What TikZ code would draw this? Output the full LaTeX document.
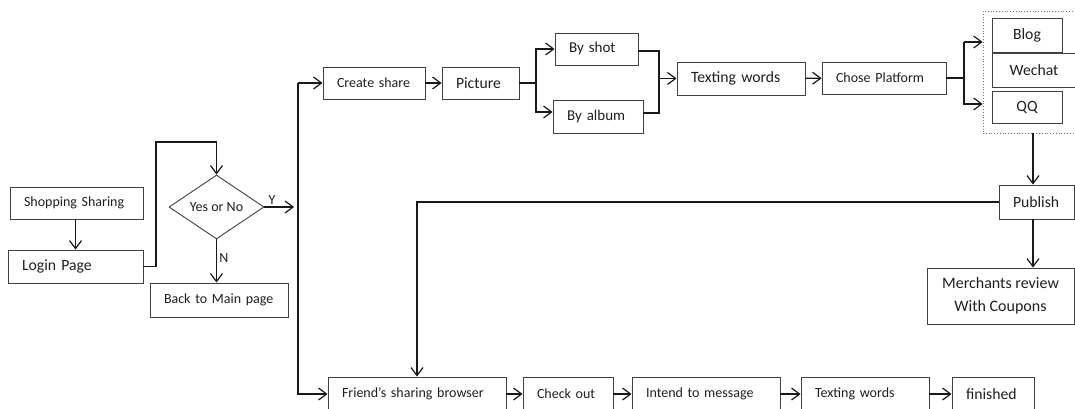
\documentclass[tikz,border=0pt]{standalone}
\usepackage{fontspec}
\setmainfont{Carlito}
\usetikzlibrary{arrows.meta,shapes.geometric,calc}

\tikzset{
  box/.style={draw=black!75, line width=0.9pt, text=black!88, inner ysep=0pt,
              inner xsep=14pt, align=left},
  cbox/.style={draw=black!75, line width=0.9pt, text=black!88, inner sep=0pt,
               align=center},
  sm/.style={font=\fontsize{14}{17}\selectfont},
  md/.style={font=\fontsize{15}{18}\selectfont},
  lg/.style={font=\fontsize{15.7}{19}\selectfont},
  line/.style={draw=black!90, line width=1.2pt},
  arr/.style={line, -{Straight Barb[length=8pt,width=12pt]}},
  lbl/.style={text=black!88, font=\fontsize{14}{17}\selectfont, inner sep=0pt}
}

\begin{document}
\begin{tikzpicture}[x=1pt, y=-1pt]
\useasboundingbox (0,0) rectangle (1075,409);
\clip (0,0) rectangle (1075,409);

% left part: entry and decision
\node[box, sm, text width=105pt, minimum height=32pt] (ss) at (76.5,203) {Shopping Sharing};
\node[box, lg, text width=107pt, minimum height=33pt] (login) at (75.5,266.5) {Login Page};
\node[draw=black!75, line width=0.9pt, diamond, aspect=1.48, inner sep=0pt,
      minimum width=95pt, minimum height=64pt, text=black!88, sm] (dec) at (216.5,207) {Yes or No};
\node[box, sm, text width=110pt, minimum height=34pt] (back) at (219,300) {Back to Main page};
\coordinate (c1) at (156,142);
\coordinate (yend) at (294,207);
\coordinate (tr) at (298,0);

% sharing branch
\node[box, sm, text width=74pt, minimum height=32pt] (create) at (374,83) {Create share};
\node[box, lg, text width=49pt, minimum height=32pt] (pic) at (480.5,83) {Picture};
\node[box, md, text width=55pt, minimum height=32pt] (shot) at (596.5,49) {By shot};
\node[box, md, text width=62pt, minimum height=33pt] (album) at (598,116.5) {By album};
\node[box, lg, text width=100pt, minimum height=33pt] (text1) at (741,78.5) {Texting words};
\node[box, sm, text width=96pt, minimum height=32pt] (chose) at (884,78) {Chose Platform};
\coordinate (f1) at (536,0);
\coordinate (f2) at (659,0);
\coordinate (f3) at (964,0);

% platforms
\node[draw=black!55, dotted, line width=0.8pt, minimum width=93pt, minimum height=122pt,
      inner sep=0pt] (plat) at (1029.5,72) {};
\node[cbox, lg, minimum width=70pt, minimum height=34pt] (blog) at (1027,35) {Blog};
\node[cbox, lg, minimum width=84pt, minimum height=34pt] (wechat) at (1034,70) {Wechat};
\node[cbox, lg, minimum width=70pt, minimum height=32pt] (qq) at (1027,107) {QQ};

% publishing
\node[box, lg, text width=47pt, minimum height=34pt] (publish) at (1036.5,202) {Publish};
\node[cbox, font=\fontsize{16}{23}\selectfont, minimum width=147pt, minimum height=56pt]
  (merch) at (1000.5,296) {Merchants review\\With Coupons};
\coordinate (px) at (1033,0);
\coordinate (fx) at (417,0);

% browsing row
\node[box, sm, text width=150pt, minimum height=34pt] (friend) at (417,394) {Friend’s sharing browser};
\node[box, sm, text width=62pt, minimum height=34pt] (check) at (568,394) {Check out};
\node[box, sm, text width=120pt, minimum height=34pt] (intend) at (706,394) {Intend to message};
\node[box, sm, text width=100pt, minimum height=34pt] (text2) at (865,394) {Texting words};
\node[box, lg, text width=54pt, minimum height=34pt] (fin) at (993,394) {finished};

% connectors: entry and decision
\draw[arr] (ss.south -| login) -- (login.north);
\draw[arr] (login.east) -| (c1) -| (dec.north);
\draw[arr] (dec.east) -- (yend);
\node[lbl] (ylab) at (272,200) {Y};
\draw[arr] (dec.south) -- (dec.south |- back.north);
\node[lbl] (nlab) at (224,258) {N};

% connectors: trunk
\draw[arr] (create.west -| tr) -- (create.west);
\draw[arr] (create.west -| tr) -- (friend.west -| tr) -- (friend.west);

% connectors: sharing branch
\draw[arr] (create) -- (pic);
\draw[line] (pic.east) -- (pic.east -| f1);
\draw[arr] (pic.east -| f1) |- (shot.west);
\draw[arr] (pic.east -| f1) |- ([yshift=4.5pt]album.west);
\draw[line] ([yshift=-2pt]shot.east) -| ([yshift=3.5pt]album.east -| f2) -- ([yshift=3.5pt]album.east);
\draw[arr] (f2 |- text1.west) -- (text1.west);
\draw[arr] (text1) -- (chose);
\draw[line] (chose.east) -- (chose.east -| f3);
\draw[arr] ($(plat.west -| f3)+(0,-30)$) -- ($(plat.west)+(0,-30)$);
\draw[arr] ($(plat.west -| f3)+(0,-30)$) -- ($(plat.west -| f3)+(0,32)$) -- ($(plat.west)+(0,32)$);

% connectors: publishing
\draw[arr] (plat.south -| px) -- (publish.north -| px);
\draw[arr] (publish.south -| px) -- (merch.north -| px);
\draw[arr] (publish.west) -| (friend.north -| fx);

% connectors: browsing row
\draw[arr] (friend) -- (check);
\draw[arr] (check) -- (intend);
\draw[arr] (intend) -- (text2);
\draw[arr] (text2) -- (fin);
\end{tikzpicture}
\end{document}
